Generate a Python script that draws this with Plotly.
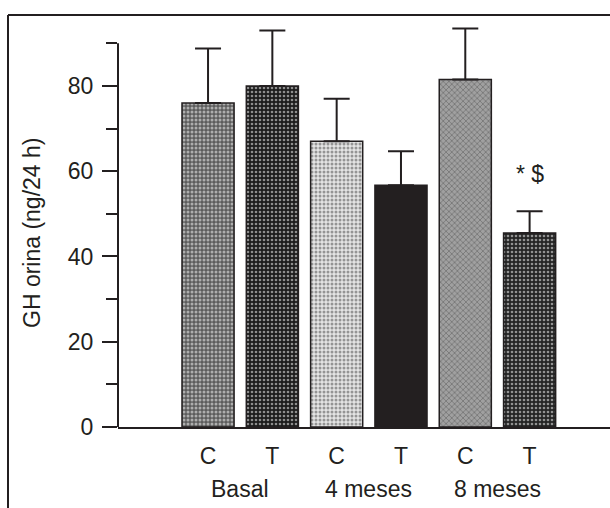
import plotly.graph_objects as go

# ---- data ----
groups = ["Basal", "4 meses", "8 meses"]
treatments = ["C", "T"]
values = [76.0, 80.0, 67.0, 56.7, 81.5, 45.5]
errors = [12.8, 13.0, 10.0, 8.0, 12.0, 5.1]
y_ticks = [0, 20, 40, 60, 80]
sig_label = "* $"

# ---- styles ----
base_colors = ["#5c5c5c", "#1c1c1c", "#e4e4e4", "#231f20", "#a0a0a0", "#242424"]
fg_colors = ["#9c9c9c", "#474747", "#a8a8a8", "#231f20", "#555555", "#5a5a5a"]
solidities = [0.45, 0.35, 0.45, 0.5, 0.35, 0.35]
shapes_pat = [".", ".", ".", "", "x", "."]
ink = "#231f20"
font_family = "Liberation Sans, Arial, sans-serif"
fs = 23

keys = [f"{g}|{t}" for g in groups for t in treatments]
tick_text = [t for g in groups for t in treatments]

fig = go.Figure()
fig.add_trace(go.Bar(
    x=keys,
    y=values,
    width=0.81,
    marker=dict(
        color=base_colors,
        line=dict(color=ink, width=1.5),
        pattern=dict(shape=shapes_pat, fgcolor=fg_colors, size=4, solidity=solidities),
    ),
    error_y=dict(type="data", symmetric=False, array=errors,
                 arrayminus=[0] * len(errors), color=ink, thickness=2, width=13),
    showlegend=False,
))

L, R, T, B = 118, 0, 22, 81
W, H = 610, 508
pw, ph = W - L - R, H - T - B

def px_x(p):
    return (p - L) / pw

def px_y(p):
    return (H - B - p) / ph

# group labels
for i, g in enumerate(groups):
    fig.add_annotation(x=2 * i + 0.5, xref="x", y=px_y(489), yref="paper",
                       text=g, showarrow=False, yanchor="middle",
                       font=dict(size=fs, color=ink, family=font_family))

# significance marker above last bar
fig.add_annotation(x=len(values) - 1, xref="x", y=px_y(174), yref="paper",
                   text=sig_label, showarrow=False, yanchor="middle",
                   font=dict(size=fs, color=ink, family=font_family))

# y-axis title
fig.add_annotation(x=px_x(32), xref="paper", y=px_y(233), yref="paper",
                   text="GH orina (ng/24 h)", textangle=-90, showarrow=False,
                   xanchor="center", yanchor="middle",
                   font=dict(size=fs, color=ink, family=font_family))

# y axis line (0 to 90 only)
fig.add_shape(type="line", xref="paper", yref="y", x0=0, x1=0, y0=0, y1=90,
              line=dict(color=ink, width=2))
# figure frame (top and left edges)
fig.add_shape(type="line", xref="paper", yref="paper",
              x0=px_x(8), x1=px_x(640), y0=px_y(15), y1=px_y(15),
              line=dict(color=ink, width=2))
fig.add_shape(type="line", xref="paper", yref="paper",
              x0=px_x(8), x1=px_x(8), y0=px_y(15), y1=px_y(540),
              line=dict(color=ink, width=2))

fig.update_layout(
    width=W, height=H,
    margin=dict(l=L, r=R, t=T, b=B, pad=0),
    paper_bgcolor="white", plot_bgcolor="white",
    font=dict(family=font_family, size=fs, color=ink),
    xaxis=dict(
        type="category", range=[-1.4, 6.25],
        tickvals=keys, ticktext=tick_text, ticks="",
        showline=True, linecolor=ink, linewidth=2,
        showgrid=False, zeroline=False, ticklabelstandoff=7,
        tickfont=dict(size=fs, color=ink, family=font_family),
    ),
    yaxis=dict(
        range=[0, 95], tickvals=y_ticks, ticks="outside", ticklen=15,
        tickwidth=1.5, tickcolor=ink, showline=False, showgrid=False,
        zeroline=False, ticklabelstandoff=4,
        tickfont=dict(size=fs, color=ink, family=font_family),
        minor=dict(tickvals=[10, 30, 50, 70, 90], ticks="outside", ticklen=11,
                   tickwidth=1.5, tickcolor=ink, showgrid=False),
    ),
)

fig.write_html("out.html", config={"displayModeBar": False},
               post_script="document.body.style.margin='0';document.body.style.overflow='hidden';")
